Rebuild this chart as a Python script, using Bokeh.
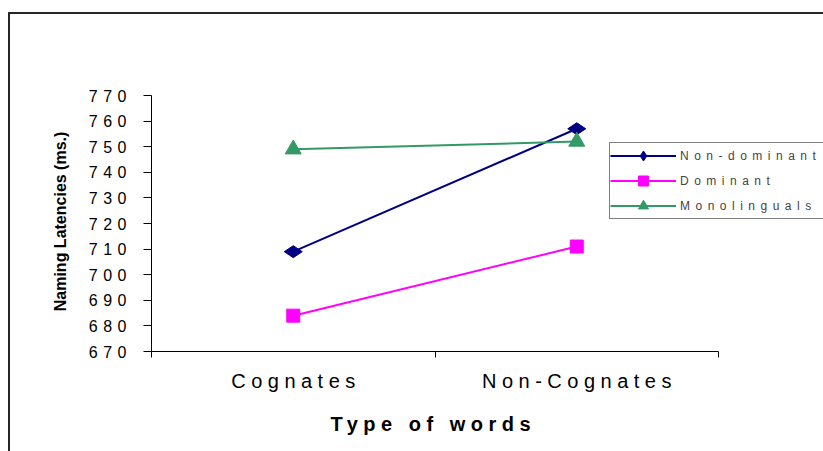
import math
from bokeh.plotting import figure
from bokeh.models import Range1d, FixedTicker, Legend, LegendItem, Title, Label
from bokeh.layouts import row
from bokeh.embed import file_html
from bokeh.resources import INLINE

# ---- data ----
categories = ["Cognates", "Non-Cognates"]
non_dominant = [709, 757]
dominant = [684, 711]
monolinguals = [749, 752]
y_ticks = [670, 680, 690, 700, 710, 720, 730, 740, 750, 760, 770]
series_names = ["Non-dominant", "Dominant", "Monolinguals"]
x_title = "Type of words"
y_title = "Naming Latencies (ms.)"

FONT = "Liberation Sans"
LS = 5.5          # letter spacing (px) of the texts in the main plot
FIG_W, FIG_H = 753, 437
BORDER_L, BORDER_T = 81, 81
AXIS_PX = 567     # pixel length of the drawn x axis
FRAME_W = FIG_W - BORDER_L
px_per_unit = AXIS_PX / len(categories)
x_end = len(categories) * FRAME_W / AXIS_PX

x = [i + 0.5 for i in range(len(categories))]
# label anchor positions compensated for letter spacing (text grows to the right)
label_pos = [i + 0.5 - (len(c) - 1) * LS / 2 / px_per_unit for i, c in enumerate(categories)]
boundaries = list(range(len(categories) + 1))

p = figure(width=FIG_W, height=FIG_H,
           x_range=Range1d(0, x_end), y_range=Range1d(y_ticks[0], y_ticks[-1]),
           output_backend="svg", toolbar_location=None,
           min_border_left=BORDER_L, min_border_right=0, min_border_top=BORDER_T,
           min_border_bottom=FIG_H - BORDER_T - 257)
p.styles = {"letter-spacing": f"{LS}px"}
p.grid.visible = False
p.outline_line_color = None
p.background_fill_color = "white"
p.border_fill_color = "white"

xa = p.xaxis[0]
xa.bounds = (0, len(categories))
xa.ticker = FixedTicker(ticks=label_pos, minor_ticks=boundaries)
xa.major_label_overrides = {pos: c for pos, c in zip(label_pos, categories)}
xa.major_tick_line_color = None
xa.minor_tick_line_color = "black"
xa.minor_tick_out = 6
xa.minor_tick_in = 0
xa.axis_line_color = "black"
xa.major_label_text_font = FONT
xa.major_label_text_font_size = "20px"
xa.major_label_text_color = "black"
xa.major_label_standoff = 12

ya = p.yaxis[0]
ya.ticker = FixedTicker(ticks=y_ticks, minor_ticks=[])
ya.major_tick_out = 8
ya.major_tick_in = 0
ya.major_tick_line_color = "black"
ya.axis_line_color = "black"
ya.major_label_standoff = 28
ya.major_label_text_font = FONT
ya.major_label_text_font_size = "16px"
ya.major_label_text_color = "black"

t = Title(text=x_title, align="left", offset=179,
          text_font=FONT, text_font_size="20px", text_font_style="bold",
          text_color="black", standoff=33)
p.add_layout(t, "below")

colors = ["#000080", "#FF00FF", "#339966"]
markers = ["diamond", "square", "triangle"]
sizes = [18, 13, 16]
angles = [math.pi / 2, 0, 0]
items = []
for name, vals, c, m, s, a in zip(series_names, [non_dominant, dominant, monolinguals], colors, markers, sizes, angles):
    rl = p.line(x, vals, line_color=c, line_width=2)
    rm = p.scatter(x, vals, marker=m, size=s, angle=a, fill_color=c, line_color=c)
    items.append(LegendItem(label=name, renderers=[rl, rm]))

legend = Legend(items=items, location=(458, 132), margin=0, padding=0, spacing=0,
                glyph_width=66, glyph_height=25, label_height=25, label_width=200,
                label_standoff=4, label_text_font=FONT, label_text_font_size="12px",
                border_line_color="black", border_line_width=1,
                background_fill_color="white", background_fill_alpha=1)
p.add_layout(legend)

# y title in its own element (no letter spacing)
pt = figure(width=60, height=FIG_H, x_range=Range1d(0, 1), y_range=Range1d(0, 1),
            x_axis_type=None, y_axis_type=None, toolbar_location=None,
            output_backend="svg", min_border=0)
pt.outline_line_color = None
pt.grid.visible = False
pt.add_layout(Label(x=49.5 / 60, y=0.508, text=y_title, angle=math.pi / 2,
                    text_align="center", text_baseline="middle",
                    text_font=FONT, text_font_size="16px", text_font_style="bold",
                    text_color="black"))

layout = row(pt, p)
layout.styles = {"border-left": "2px solid #262626", "border-top": "2px solid #262626",
                 "margin-top": "12px", "margin-left": "8px"}

open("out.html", "w").write(file_html(layout, INLINE))
